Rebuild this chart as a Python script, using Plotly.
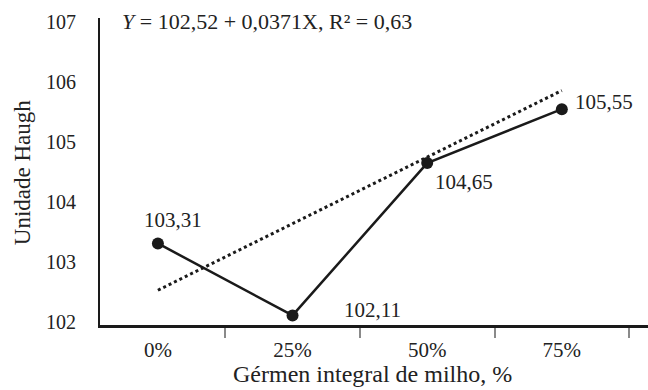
import plotly.graph_objects as go

# ---- data ----
categories = ["0%", "25%", "50%", "75%"]
haugh = [103.31, 102.11, 104.65, 105.55]
haugh_labels = ["103,31", "102,11", "104,65", "105,55"]
trend_x = ["0%", "75%"]
trend_y = [102.53, 105.86]
y_ticks = [102, 103, 104, 105, 106, 107]
equation = "<i>Y</i> = 102,52 + 0,0371X, R² = 0,63"

# ---- styles ----
FONT = "Liberation Serif"
INK = "#1a1a1a"
TXT = "#222222"
label_shift = [(15, 23), (80, 5), (37, -19), (42, 7)]

fig = go.Figure()
fig.add_trace(go.Scatter(
    x=trend_x, y=trend_y, mode="lines",
    line=dict(color=INK, width=3, dash="dot"),
    hoverinfo="skip", showlegend=False,
))
fig.add_trace(go.Scatter(
    x=categories, y=haugh, mode="lines+markers",
    line=dict(color=INK, width=2.5),
    marker=dict(color=INK, size=12),
    showlegend=False,
))

annotations = []
for c, v, t, (dx, dy) in zip(categories, haugh, haugh_labels, label_shift):
    annotations.append(dict(
        x=c, y=v, xref="x", yref="y", text=t, showarrow=False,
        xanchor="center", yanchor="middle", xshift=dx, yshift=dy,
        font=dict(family=FONT, size=21, color=TXT),
    ))
annotations.append(dict(
    x=0.037, y=0.987, xref="paper", yref="paper", text=equation,
    showarrow=False, xanchor="left", yanchor="middle",
    font=dict(family=FONT, size=22, color=TXT),
))
annotations.append(dict(
    x=0.498, y=-0.210, xref="paper", yref="paper",
    text="Gérmen integral de milho, %", showarrow=False,
    xanchor="center", yanchor="bottom",
    font=dict(family=FONT, size=24, color=TXT),
))
annotations.append(dict(
    x=-0.142, y=0.495, xref="paper", yref="paper",
    text="Unidade Haugh", showarrow=False, textangle=-90,
    xanchor="center", yanchor="middle",
    font=dict(family=FONT, size=23, color=TXT),
))

fig.update_layout(
    width=648, height=390,
    margin=dict(l=100, r=0, t=18, b=65),
    paper_bgcolor="white", plot_bgcolor="white",
    font=dict(family=FONT, size=20, color=TXT),
    annotations=annotations,
    xaxis=dict(
        type="category", categoryorder="array", categoryarray=categories,
        range=[-0.43, 3.64], showgrid=False, zeroline=False,
        automargin=False,
        showline=True, linecolor=INK, linewidth=2.5,
        ticks="outside", tickson="boundaries", ticklen=10,
        tickcolor="#8a8a8a", tickwidth=1.5,
        tickfont=dict(family=FONT, size=21, color=TXT),
        ticklabelstandoff=4,
    ),
    yaxis=dict(
        range=[101.95, 107.07], tickvals=y_ticks,
        ticktext=[str(t) for t in y_ticks],
        showgrid=False, zeroline=False, automargin=False,
        showline=True, linecolor=INK, linewidth=2,
        ticks="", ticklabelstandoff=18,
        tickfont=dict(family=FONT, size=20, color=TXT),
    ),
)

fig.write_html(
    "out.html",
    config={"displayModeBar": False},
    post_script="document.body.style.margin='0';document.body.style.overflow='hidden';",
)
